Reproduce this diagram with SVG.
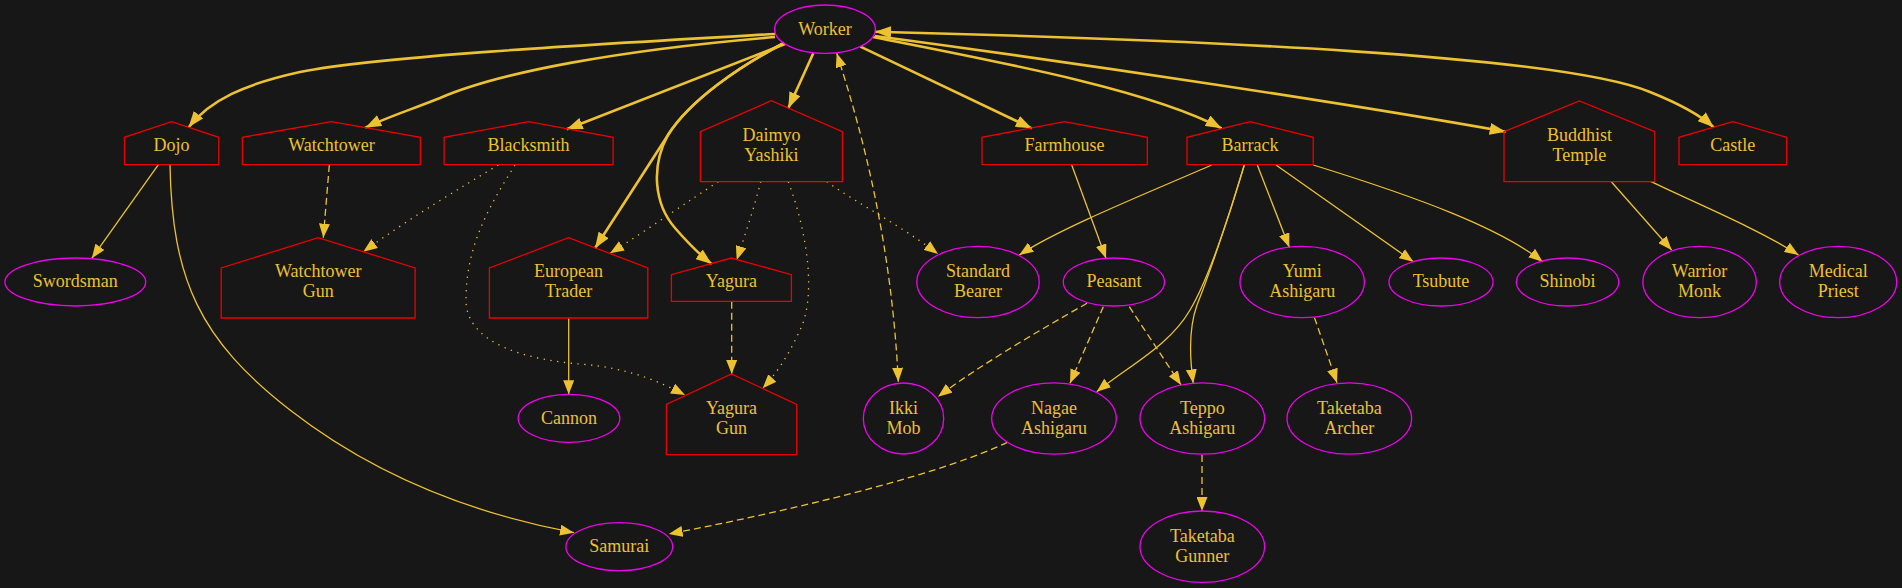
<svg xmlns="http://www.w3.org/2000/svg" width="1902" height="588" viewBox="0 0 1902 588" font-family="Liberation Serif, Times New Roman, serif">
<style>
.e{fill:none;stroke:#ecc132;stroke-width:1.3;marker-end:url(#a)}
.b{stroke-width:2.6;marker-end:url(#ab)}
.da{stroke-dasharray:7,4}
.do{stroke-dasharray:1.3,5.5}
.h{fill:none;stroke:#ee0000;stroke-width:1.3}
.el{fill:none;stroke:#f000f0;stroke-width:1.3}
text{font-family:'Liberation Serif','Times New Roman',Times,'Noto Serif','DejaVu Serif',serif;font-size:18px;fill:#ecc132;text-anchor:middle}
</style>
<defs>
<marker id="a" viewBox="0 0 14 11" refX="14" refY="5.5" markerWidth="14" markerHeight="11" markerUnits="userSpaceOnUse" orient="auto-start-reverse"><polygon points="0,0 14,5.5 0,11" fill="#ecc132"/></marker>
<marker id="ab" viewBox="0 0 16 12" refX="16" refY="6" markerWidth="16" markerHeight="12" markerUnits="userSpaceOnUse" orient="auto-start-reverse"><polygon points="0,0 16,6 0,12" fill="#ecc132"/></marker>
</defs>
<rect width="1902" height="588" fill="#171717"/>
<g id="edges">
<path class="e b" d="M775,34 C600,44 380,56 300,72 C245,84 210,100 188.6,127.3"/>
<path class="e b" d="M775,37 C620,50 500,72 440,98 C410,110 385,118 365.3,127.7"/>
<path class="e b" d="M785,44 L566.7,129.3"/>
<path class="e b" d="M784,43 C740,66 690,100 668,135 L595,248.3"/>
<path class="e b" d="M784,43 C740,66 690,100 668,135 C650,168 655,205 675,228 C688,243 700,255 711.7,264"/>
<path class="e b" d="M813.3,53.3 L788.3,108.3"/>
<path class="e b" d="M860.4,46.7 L1031.8,128.3"/>
<path class="e b" d="M873,37 C1000,62 1150,90 1221.6,128.3"/>
<path class="e b" d="M875,36 C1100,66 1350,104 1505.7,131.7"/>
<path class="e b" style="marker-start:url(#ab)" d="M875,31.7 C1200,40 1560,55 1650,92 C1680,104 1700,115 1713.7,127.3"/>
<path class="e" d="M158.4,164.7 L91.8,258.3"/>
<path class="e" d="M170,165 C172,280 200,340 290,410 C380,480 480,515 574,532.7"/>
<path class="e" d="M1071.7,165 L1106,258.3"/>
<path class="e" d="M1211.7,165 C1150,192 1060,228 1019.3,255"/>
<path class="e" d="M1244.3,165 C1225,230 1205,285 1190,310 C1170,345 1130,365 1096.7,391.7"/>
<path class="e" d="M1244.3,165 C1225,230 1205,285 1197,305 C1188,330 1190,360 1193.3,383.3"/>
<path class="e" d="M1257.3,165 L1289.3,247.3"/>
<path class="e" d="M1276,165 L1413.3,261.7"/>
<path class="e" d="M1313.3,165 C1420,198 1500,228 1542.6,261.7"/>
<path class="e" d="M1611.3,181.7 L1671.6,250"/>
<path class="e" d="M1651,181.7 C1700,205 1760,230 1798.5,255"/>
<path class="e" d="M568.7,318.3 L568.7,394.3"/>
<path class="e da" d="M329.3,165 L323.3,237.7"/>
<path class="e da" d="M731.7,301.7 L731.7,374"/>
<path class="e da" d="M1087,303.3 C1040,330 980,365 938,396.7"/>
<path class="e da" d="M1103.3,306.7 L1070,383.3"/>
<path class="e da" d="M1129.3,306.7 L1181,385"/>
<path class="e da" d="M1314.5,317.7 L1337,382.7"/>
<path class="e da" d="M1202,455 L1202,511"/>
<path class="e da" d="M1007.3,442.3 C950,470 820,505 668.7,534"/>
<path class="e da" style="marker-start:url(#a)" d="M836.7,53.3 C865,140 892,250 898.3,381.7"/>
<path class="e do" d="M498.3,165 C460,188 410,218 363.3,251.7"/>
<path class="e do" d="M515,165 C490,205 466,245 466,300 C466,345 530,360 580,364 C630,368 660,382 685,395"/>
<path class="e do" d="M718.3,181.7 C690,200 650,228 610,253.3"/>
<path class="e do" d="M760.7,181.7 C755,205 745,235 736.7,260"/>
<path class="e do" d="M788.3,181.7 C810,240 815,300 800,330 C790,352 778,372 762.7,388.3"/>
<path class="e do" d="M826.7,181.7 C860,205 900,225 938,254"/>
</g>
<g id="worker"><ellipse class="el" cx="825" cy="29.2" rx="50.4" ry="24.2"/><text x="825" y="34.5">Worker</text></g>
<g id="dojo"><polygon class="h" points="124.5,164.7 124.5,137.3 171.6,121.7 218.8,137.3 218.8,164.7"/><text x="171.6" y="151.3">Dojo</text></g>
<g id="watchtower"><polygon class="h" points="242.4,164.7 242.4,137.3 331.4,121.7 420.4,137.3 420.4,164.7"/><text x="331.4" y="151.3">Watchtower</text></g>
<g id="blacksmith"><polygon class="h" points="444.1,164.7 444.1,137.3 528.6,121.7 613.1,137.3 613.1,164.7"/><text x="528.6" y="151.3">Blacksmith</text></g>
<g id="daimyo"><polygon class="h" points="700.4,181.7 700.4,131.7 771.4,100.7 842.4,131.7 842.4,181.7"/><text x="771.4" y="141">Daimyo</text><text x="771.4" y="160.7">Yashiki</text></g>
<g id="farmhouse"><polygon class="h" points="982,164.7 982,137.3 1064.6,121.7 1147.3,137.3 1147.3,164.7"/><text x="1064.6" y="151.3">Farmhouse</text></g>
<g id="barrack"><polygon class="h" points="1187,164.7 1187,137.3 1250.1,121.7 1313.2,137.3 1313.2,164.7"/><text x="1250.1" y="151.3">Barrack</text></g>
<g id="temple"><polygon class="h" points="1504,181.7 1504,131.7 1579.4,101 1654.8,131.7 1654.8,181.7"/><text x="1579.4" y="141">Buddhist</text><text x="1579.4" y="160.7">Temple</text></g>
<g id="castle"><polygon class="h" points="1679,164.7 1679,137.3 1732.8,121.7 1786.6,137.3 1786.6,164.7"/><text x="1732.8" y="151.3">Castle</text></g>
<g id="swordsman"><ellipse class="el" cx="75.3" cy="282" rx="70.4" ry="24"/><text x="75.3" y="287.3">Swordsman</text></g>
<g id="watchtower-gun"><polygon class="h" points="221.2,318 221.2,268 318.2,237.7 415.1,268 415.1,318"/><text x="318.2" y="277.3">Watchtower</text><text x="318.2" y="297">Gun</text></g>
<g id="european-trader"><polygon class="h" points="489.4,318 489.4,268 568.6,237.7 647.8,268 647.8,318"/><text x="568.6" y="277.3">European</text><text x="568.6" y="297">Trader</text></g>
<g id="yagura"><polygon class="h" points="671.4,301.3 671.4,274.7 731.4,258 791.4,274.7 791.4,301.3"/><text x="731.4" y="287.3">Yagura</text></g>
<g id="standard-bearer"><ellipse class="el" cx="978" cy="282" rx="61.2" ry="35.7"/><text x="978" y="277.3">Standard</text><text x="978" y="297.3">Bearer</text></g>
<g id="peasant"><ellipse class="el" cx="1113.9" cy="282" rx="50.6" ry="24"/><text x="1113.9" y="287.3">Peasant</text></g>
<g id="yumi-ashigaru"><ellipse class="el" cx="1302.2" cy="282" rx="62.2" ry="35.7"/><text x="1302.2" y="277.3">Yumi</text><text x="1302.2" y="297">Ashigaru</text></g>
<g id="tsubute"><ellipse class="el" cx="1441" cy="282" rx="52" ry="24"/><text x="1441" y="287.3">Tsubute</text></g>
<g id="shinobi"><ellipse class="el" cx="1567.5" cy="282" rx="51.2" ry="24"/><text x="1567.5" y="287.3">Shinobi</text></g>
<g id="warrior-monk"><ellipse class="el" cx="1699.6" cy="282" rx="56.7" ry="35.7"/><text x="1699.6" y="277.3">Warrior</text><text x="1699.6" y="297">Monk</text></g>
<g id="medical-priest"><ellipse class="el" cx="1838.2" cy="282" rx="58.5" ry="35.7"/><text x="1838.2" y="277.3">Medical</text><text x="1838.2" y="297">Priest</text></g>
<g id="cannon"><ellipse class="el" cx="569" cy="418.3" rx="50.8" ry="24"/><text x="569" y="423.6">Cannon</text></g>
<g id="yagura-gun"><polygon class="h" points="666.4,454.7 666.4,404.3 731.5,374 796.7,404.3 796.7,454.7"/><text x="731.5" y="414.3">Yagura</text><text x="731.5" y="434">Gun</text></g>
<g id="ikki-mob"><ellipse class="el" cx="903.5" cy="418.5" rx="40.2" ry="35.5"/><text x="903.5" y="414">Ikki</text><text x="903.5" y="434">Mob</text></g>
<g id="nagae-ashigaru"><ellipse class="el" cx="1054" cy="418.5" rx="62.3" ry="35.7"/><text x="1054" y="414">Nagae</text><text x="1054" y="434">Ashigaru</text></g>
<g id="teppo-ashigaru"><ellipse class="el" cx="1202.3" cy="418.5" rx="62.3" ry="35.7"/><text x="1202.3" y="414">Teppo</text><text x="1202.3" y="434">Ashigaru</text></g>
<g id="taketaba-archer"><ellipse class="el" cx="1349.3" cy="418.5" rx="62.3" ry="35.7"/><text x="1349.3" y="414">Taketaba</text><text x="1349.3" y="434">Archer</text></g>
<g id="samurai"><ellipse class="el" cx="619.3" cy="546.7" rx="53.4" ry="24"/><text x="619.3" y="552">Samurai</text></g>
<g id="taketaba-gunner"><ellipse class="el" cx="1202.3" cy="546.7" rx="62.3" ry="35.7"/><text x="1202.3" y="542.2">Taketaba</text><text x="1202.3" y="562">Gunner</text></g>
</svg>
